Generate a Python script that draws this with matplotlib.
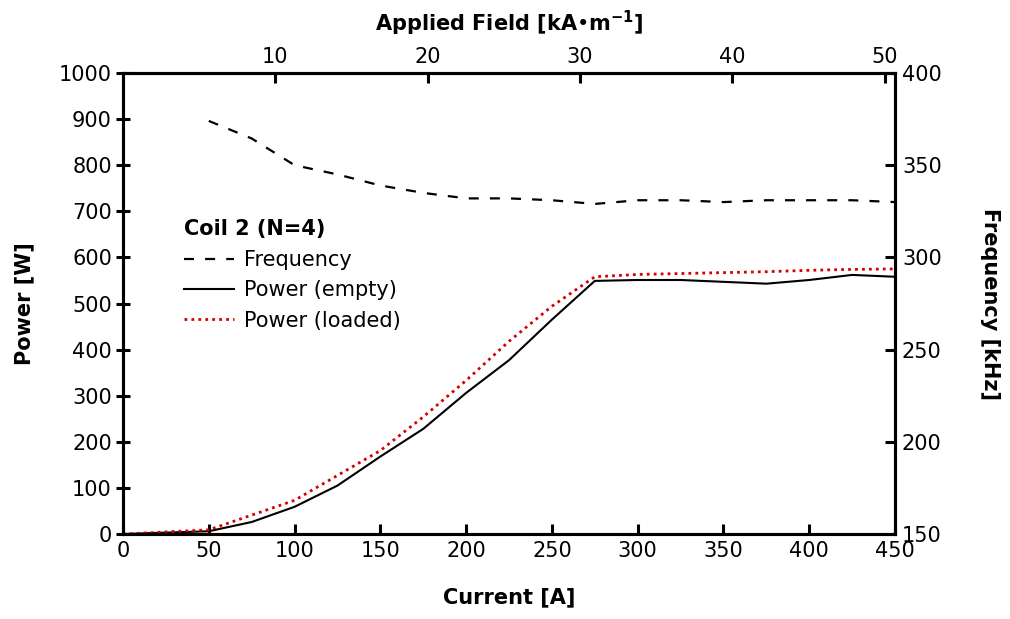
import matplotlib
matplotlib.use("Agg")
import matplotlib.pyplot as plt
from matplotlib.lines import Line2D

plt.rcParams['font.family'] = ['DejaVu Sans']
plt.rcParams['mathtext.fontset'] = 'dejavusans'

# Data
current_freq = [50, 75, 100, 125, 150, 175, 200, 225, 250, 275, 300, 325, 350, 375, 400, 425, 450]
frequency_khz = [374, 364.5, 350, 345, 339, 335, 332, 332, 331, 329, 331, 331, 330, 331, 331, 331, 330]

current_power = [0, 50, 75, 100, 125, 150, 175, 200, 225, 250, 275, 300, 325, 350, 375, 400, 425, 450]
power_empty = [0, 6, 26, 59, 105, 168, 228, 306, 377, 465, 549, 551, 551, 547, 543, 551, 562, 558]
power_loaded = [0, 9, 41, 73, 127, 181, 254, 333, 418, 494, 558, 563, 565, 567, 569, 572, 574, 575]

field_per_amp = 1 / 8.88  # kA/m per A

fig = plt.figure(figsize=(10.10, 6.19), dpi=100)
ax = fig.add_axes([123/1010, 1 - 534/619, (895 - 123)/1010, (534 - 73)/619])
ax2 = ax.twinx()

ax.plot(current_power, power_empty, color='black', lw=1.5, zorder=3)
ax.plot(current_power, power_loaded, color='#d40000', lw=2.0, linestyle=(0, (1, 1.5)), zorder=4)
ax2.plot(current_freq, frequency_khz, color='black', lw=1.6, linestyle=(0, (4.5, 5)))

ax.set_xlim(0, 450)
ax.set_ylim(0, 1000)
ax2.set_ylim(150, 400)
ax.set_xticks(range(0, 451, 50))
ax.set_yticks(range(0, 1001, 100))
ax2.set_yticks(range(150, 401, 50))

fs = 15
for a in (ax, ax2):
    for s in a.spines.values():
        s.set_linewidth(2.2)
ax.tick_params(axis='both', direction='in', length=7, width=2.2, labelsize=fs, pad=5)
ax.tick_params(axis='y', direction='inout', length=10, pad=3)
ax2.tick_params(axis='y', direction='in', length=7, width=2.2, labelsize=fs, pad=5)

secax = ax.secondary_xaxis('top', functions=(lambda x: x * field_per_amp, lambda f: f / field_per_amp))
secax.set_xticks([10, 20, 30, 40, 50])
secax.tick_params(direction='in', length=7, width=2.2, labelsize=fs, pad=4)
secax.spines['top'].set_linewidth(2.2)
secax.set_xlabel(r'Applied Field [kA•m$^{\mathbf{-1}}$]', fontsize=fs, fontweight='bold', labelpad=12)

ax.set_xlabel('Current [A]', fontsize=fs, fontweight='bold', labelpad=19)
ax.set_ylabel('Power [W]', fontsize=fs, fontweight='bold', labelpad=18)
ax2.set_ylabel('Frequency [kHz]', fontsize=fs, fontweight='bold', rotation=-90, labelpad=42)

handles = [
    Line2D([], [], color='black', lw=1.6, linestyle=(0, (4.5, 5))),
    Line2D([], [], color='black', lw=1.5),
    Line2D([], [], color='#d40000', lw=2.0, linestyle=(0, (1, 1.5))),
]
labels = ['Frequency', 'Power (empty)', 'Power (loaded)']
leg = ax.legend(handles, labels, title='Coil 2 (N=4)', loc='upper left',
                bbox_to_anchor=(0.06, 0.714), frameon=False, fontsize=fs,
                handlelength=2.4, handletextpad=0.5, labelspacing=0.5,
                alignment='left', borderaxespad=0.3,
                title_fontproperties={'weight': 'bold', 'size': fs})

fig.savefig('out.png', dpi=100)
